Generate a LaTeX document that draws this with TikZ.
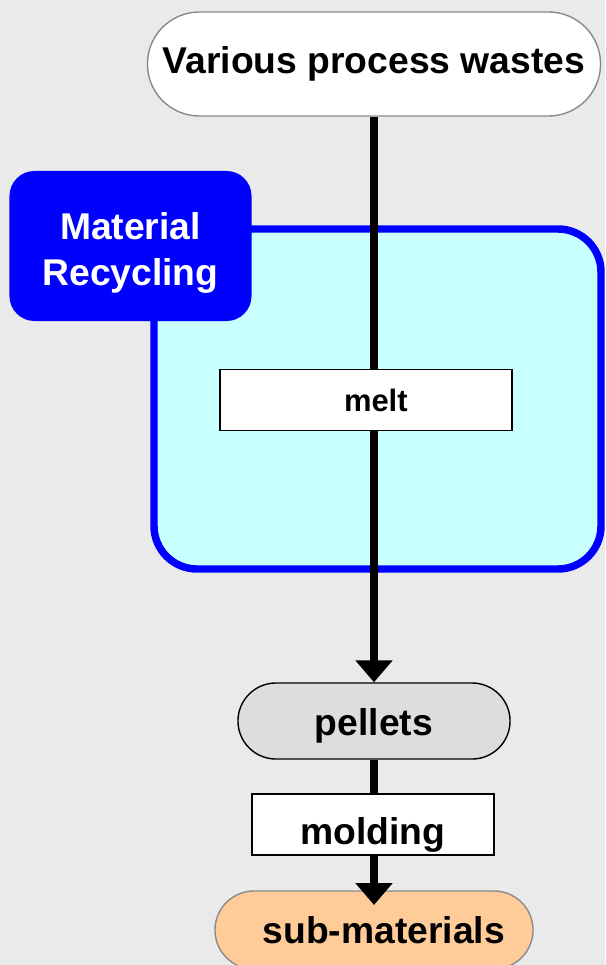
\documentclass[tikz,border=0pt]{standalone}
\usepackage{fontspec}
\setmainfont{Liberation Sans}
\usetikzlibrary{arrows.meta}
\definecolor{paper}{HTML}{EAEAEA}
\definecolor{tankfill}{HTML}{C8FFFF}
\definecolor{pelletgray}{HTML}{DDDDDD}
\definecolor{subfill}{HTML}{FFCC99}
\definecolor{rimgray}{HTML}{8A8A8A}

\begin{document}
\begin{tikzpicture}[x=0.025cm,y=-0.025cm,
    every node/.style={font=\bfseries\fontsize{26.5}{32.5}\selectfont, inner sep=0pt},
    pill/.style={rectangle, draw=rimgray, line width=1pt},
    stepbox/.style={rectangle, draw=black, line width=1pt, fill=white, minimum height=1.525cm},
    flow/.style={line width=5.3pt, -{Triangle[width=25.6pt,length=15.6pt]}}]
	%% page and background
	\useasboundingbox (0,0) rectangle (605,965);
	\clip (0,0) rectangle (605,965);
	\fill[paper] (0,0) rectangle (605,965);

	% recycling area
	\draw[blue, line width=5.3pt, fill=tankfill, rounded corners=1.075cm] (154,229) rectangle (601,569);
	\node[fill=blue, text=white, align=center, rounded corners=0.625cm,
	      minimum width=6.05cm, minimum height=3.75cm] (tag) at (130.5,246) {\rule{0pt}{29pt}Material\\Recycling};

	% start, pellets and end
	\node[pill, fill=white, rounded corners=1.3cm, minimum width=11.325cm, minimum height=2.6cm]
	      (wastes) at (374,64) {Various process wastes};
	\node[pill, draw=black, fill=pelletgray, rounded corners=0.95cm, minimum width=6.8cm, minimum height=1.9cm,
	      text height=22pt, text depth=2pt] (pellets) at (374,721) {pellets};
	\node[pill, fill=subfill, rounded corners=0.975cm, minimum width=7.95cm, minimum height=1.95cm]
	      (sub) at (374,930) {\hspace*{14pt}sub-materials};

	% flow lines, the steps go on top
	\draw[flow] (wastes.south) -- (pellets.north);
	\draw[flow, shorten >=0.625cm] (pellets.south) -- (sub.center);

	\node[stepbox, font=\bfseries\fontsize{22}{26}\selectfont, minimum width=7.3cm]
	      (melt) at (366,400) {\hspace*{14pt}melt};
	\node[stepbox, minimum width=6.05cm, text height=33pt, text depth=5pt]
	      (molding) at (373,824.5) {molding};
\end{tikzpicture}
\end{document}
